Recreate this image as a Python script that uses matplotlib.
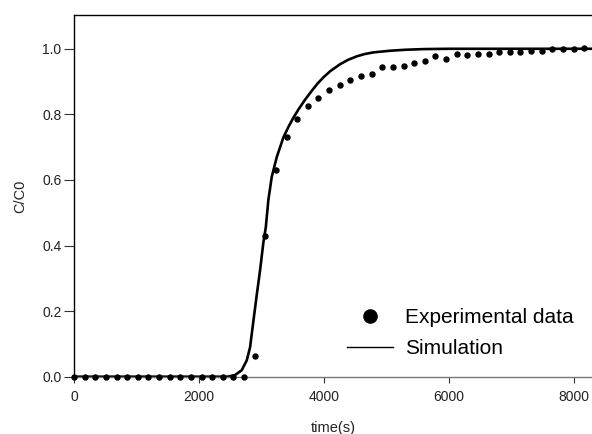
import numpy as np
import matplotlib
matplotlib.use("Agg")
import matplotlib.pyplot as plt
from matplotlib.lines import Line2D

plt.rcParams['font.family'] = ['Liberation Sans', 'DejaVu Sans']

# experimental data, one sample every 170 s
exp_t = [170 * i for i in range(50)]
exp_c = [0, 0, 0, 0, 0, 0, 0, 0, 0, 0,
         0, 0, 0, 0, 0, 0, 0, 0.064, 0.429, 0.63,
         0.73, 0.785, 0.825, 0.850, 0.874, 0.891, 0.905, 0.916, 0.924, 0.944,
         0.943, 0.949, 0.957, 0.962, 0.977, 0.969, 0.985, 0.980, 0.983, 0.984,
         0.990, 0.989, 0.990, 0.992, 0.994, 0.998, 0.998, 1.000, 1.003, 1.002]

# simulation curve
sim_t = [0, 2450, 2576, 2683, 2763, 2816, 2869, 2923, 2976, 3029, 3067, 3109,
         3163, 3243, 3349, 3430, 3509, 3600, 3696, 3803, 3900, 3989, 4100,
         4256, 4380, 4523, 4650, 4789, 5056, 5300, 5589, 6000, 8500]
sim_c = [0, 0, 0.005, 0.02, 0.05, 0.09, 0.17, 0.25, 0.325, 0.41, 0.455, 0.54,
         0.61, 0.67, 0.73, 0.762, 0.79, 0.818, 0.845, 0.872, 0.895, 0.913, 0.932,
         0.953, 0.966, 0.977, 0.984, 0.989, 0.994, 0.997, 0.999, 1.0, 1.0]

xticks = [0, 2000, 4000, 6000, 8000]
yticks = [0.0, 0.2, 0.4, 0.6, 0.8, 1.0]

fig = plt.figure(figsize=(5.92, 4.34), dpi=100)
ax = fig.add_axes([74 / 592, 57.3 / 434, 519 / 592, 361.7 / 434])

ax.plot(sim_t, sim_c, color='black', lw=1.9, zorder=2)
ax.plot(exp_t, exp_c, 'o', color='black', ms=3.6, zorder=3, clip_on=False)

ax.set_xlim(0, 8300)
ax.set_ylim(0, 1.103)
ax.set_xticks(xticks)
ax.set_yticks(yticks)
ax.set_yticklabels(['%.1f' % v for v in yticks])
ax.tick_params(axis='y', direction='out', length=7, width=0.8, labelsize=10,
               pad=2, colors='#333333', labelcolor='#222222')
ax.tick_params(axis='x', direction='out', length=4.5, width=0.8, labelsize=10,
               pad=5, colors='#333333', labelcolor='#222222')
for s in ax.spines.values():
    s.set_linewidth(1.0)
ax.spines['bottom'].set_color('#777777')

ax.set_xlabel('time(s)', fontsize=10.5, labelpad=12, color='#222222')
ax.set_ylabel('C/C0', fontsize=10.5, labelpad=11, color='#222222')

handles = [Line2D([], [], ls='none', marker='o', color='black', ms=9.5),
           Line2D([], [], color='black', lw=1.0)]
fig.legend(handles, ['Experimental data', 'Simulation'], loc='upper left',
           bbox_to_anchor=(347 / 592, 1 - 308 / 434), frameon=False,
           fontsize=15, borderpad=0, borderaxespad=0, handlelength=2.2,
           handletextpad=0.6, labelspacing=0.6)

fig.savefig('out.png', dpi=100)
